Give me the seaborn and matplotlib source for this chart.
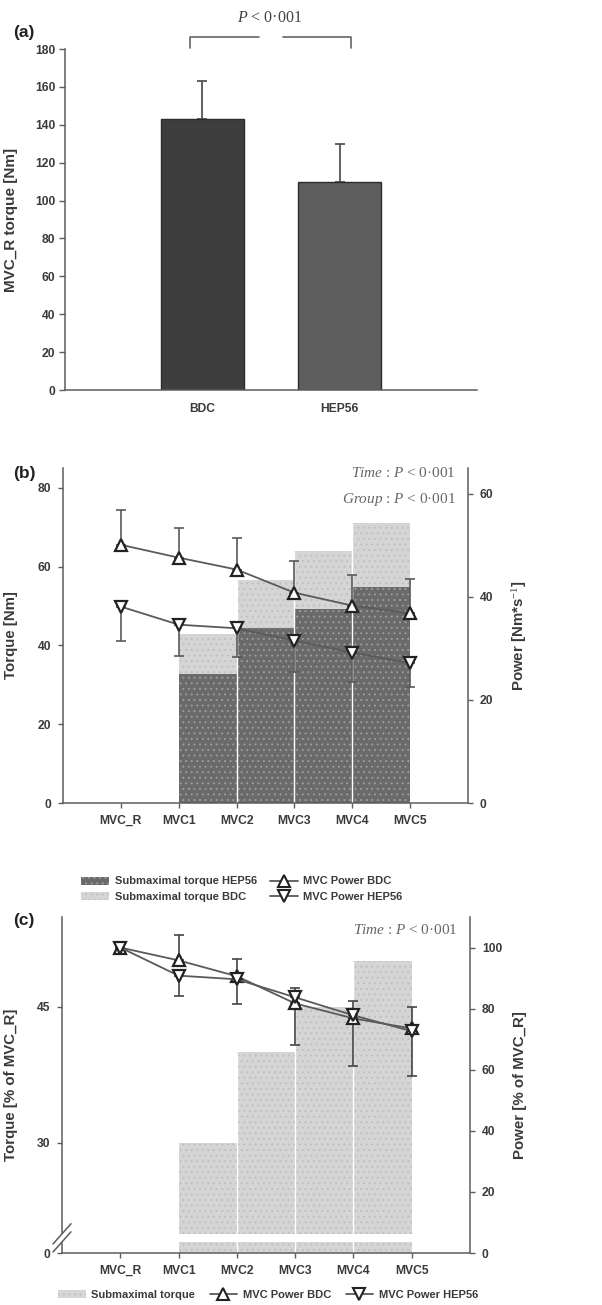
import numpy as np
import matplotlib
matplotlib.use('Agg')
import matplotlib.pyplot as plt
import seaborn as sns
from matplotlib.patches import Patch, Rectangle
from matplotlib.lines import Line2D

# ---------------- data ----------------
groups_a = ['BDC', 'HEP56']
mvc_r_torque = [143, 110]
mvc_r_torque_sd = [20, 20]

stages = ['MVC_R', 'MVC1', 'MVC2', 'MVC3', 'MVC4', 'MVC5']
# submaximal torque blocks between consecutive MVCs (MVC1-2, 2-3, 3-4, 4-5)
submax_torque_bdc = [42.8, 56.7, 64.0, 71.1]
submax_torque_hep = [32.7, 44.3, 49.1, 54.7]
power_bdc = [50.1, 47.6, 45.3, 40.8, 38.3, 36.8]
power_bdc_err = [6.8, 5.8, 6.2, 6.2, 6.0, 6.6]
power_hep = [38.1, 34.6, 33.9, 31.5, 29.2, 27.1]
power_hep_err = [6.7, 6.0, 5.6, 6.1, 5.8, 4.6]

submax_torque_pct = [30, 40, 45, 50]
power_bdc_pct = [100, 95.8, 90.6, 81.7, 76.8, 73.5]
power_bdc_pct_err = [0, 8.4, 5.8, 5.2, 5.6, 6.9]
power_hep_pct = [100, 90.8, 89.6, 83.7, 77.8, 72.6]
power_hep_pct_err = [0, 6.8, 8.2, 15.6, 16.7, 14.8]

c_left_ticks = [30, 45]
c_left_ticklabels = ['0', '30', '45']

# ---------------- style ----------------
sns.set_theme(style='ticks')
plt.rcParams['font.family'] = ['Liberation Sans', 'DejaVu Sans']
plt.rcParams['mathtext.fontset'] = 'custom'
plt.rcParams['mathtext.it'] = 'Liberation Serif:italic'
plt.rcParams['mathtext.rm'] = 'Liberation Serif'
plt.rcParams['hatch.linewidth'] = 0.7

W, H = 602, 1305
SPINE = '#5c5c5c'
TXT = '#3a3a3a'
STAT = '#666666'
DARK_BAR = '#6a6a6a'
DARK_DOT = '#9c9c9c'
LIGHT_BAR = '#d5d5d5'
LIGHT_DOT = '#bfbfbf'
LINE = '#5a5a5a'

fig = plt.figure(figsize=(W / 100, H / 100), dpi=100)


def style_axis(ax, sides=('left', 'bottom')):
    for s in ['left', 'right', 'top', 'bottom']:
        ax.spines[s].set_visible(s in sides)
        ax.spines[s].set_color(SPINE)
        ax.spines[s].set_linewidth(1.1)
    ax.tick_params(colors=SPINE, labelcolor=TXT, width=1.0, length=3.5)
    for lab in ax.get_xticklabels() + ax.get_yticklabels():
        lab.set_fontweight('bold')
        lab.set_fontsize(8.7)


# ---------------- panel (a) ----------------
axA = fig.add_axes([65 / W, 1 - 390 / H, 412 / W, 341 / H])
xa = np.arange(len(groups_a))
axA.errorbar(xa, mvc_r_torque, yerr=[np.zeros(len(xa)), mvc_r_torque_sd], fmt='none',
             ecolor='#555555', elinewidth=1.3, capsize=3.5, capthick=1.3, zorder=0.5)
sns.barplot(x=groups_a, y=mvc_r_torque, hue=groups_a, palette=['#3e3e3e', '#5e5e5e'],
            width=0.6, legend=False, errorbar=None, edgecolor='#2c2c2c', linewidth=1.0, ax=axA)
for p in axA.patches:
    p.set_zorder(2)
axA.set_xlim(-1, 2)
axA.set_ylim(0, 180)
axA.set_yticks(np.arange(0, 181, 20))
axA.set_xticks(xa)
axA.set_xticklabels(groups_a)
style_axis(axA)
axA.tick_params(axis='x', length=0, pad=9)
axA.tick_params(axis='y', length=4, pad=3)
axA.set_xlabel('')
axA.set_ylabel('MVC_R torque [Nm]', fontsize=11, fontweight='bold', color=TXT)
axA.yaxis.set_label_coords(-0.114, 0.5)
yb, yt = 186.3, 180.6
axA.plot([xa[0] - 0.09, xa[0] - 0.09, xa[0] + 0.41], [yt, yb, yb], color='#666666', lw=1.2, clip_on=False)
axA.plot([xa[1] - 0.41, xa[1] + 0.08, xa[1] + 0.08], [yb, yb, yt], color='#666666', lw=1.2, clip_on=False)
axA.text(0.49, 196.4, '$P$ < 0·001', ha='center', va='center', fontsize=11.5,
         family='Liberation Serif', color='#444444')
fig.text(13 / W, 1 - 33 / H, '(a)', ha='left', va='center', fontsize=12.5, fontweight='bold', color='#222222')

xpos = np.arange(len(stages))
block_left = xpos[1:-1]

# ---------------- panel (b) ----------------
axB = fig.add_axes([63 / W, 1 - 803 / H, 405 / W, 335 / H])
axB.bar(block_left, submax_torque_bdc, width=1, align='edge', color=LIGHT_BAR,
        edgecolor=LIGHT_DOT, hatch='...', linewidth=0, zorder=1)
axB.bar(block_left, submax_torque_hep, width=1, align='edge', color=DARK_BAR,
        edgecolor=DARK_DOT, hatch='...', linewidth=0, zorder=2)
sep_h = np.maximum(submax_torque_bdc[:-1], submax_torque_bdc[1:])
axB.vlines(block_left[1:], 0, sep_h, colors='white', lw=1.0, zorder=2.5)
axB.set_xlim(-1, len(stages))
axB.set_ylim(0, 85)
axB.set_yticks([0, 20, 40, 60, 80])
axB.set_xticks(xpos)
axB.set_xticklabels(stages)
style_axis(axB)
axB.tick_params(axis='x', pad=5)
axB.tick_params(axis='y', pad=5)
axB.set_ylabel('Torque [Nm]', fontsize=10.8, fontweight='bold', color=TXT)
axB.yaxis.set_label_coords(-0.111, 0.5)

axB2 = axB.twinx()
axB2.errorbar(xpos, power_bdc, yerr=[np.zeros(len(xpos)), power_bdc_err], fmt='none',
              ecolor=LINE, elinewidth=1.2, capsize=3.5, capthick=1.2, zorder=3)
axB2.errorbar(xpos, power_hep, yerr=[power_hep_err, np.zeros(len(xpos))], fmt='none',
              ecolor=LINE, elinewidth=1.2, capsize=3.5, capthick=1.2, zorder=3)
sns.lineplot(x=xpos, y=power_bdc, ax=axB2, color=LINE, lw=1.3, marker='^', markersize=9,
             markerfacecolor='white', markeredgecolor='#222222', markeredgewidth=1.6, zorder=4)
sns.lineplot(x=xpos, y=power_hep, ax=axB2, color=LINE, lw=1.3, marker='v', markersize=9,
             markerfacecolor='white', markeredgecolor='#222222', markeredgewidth=1.6, zorder=4)
axB2.set_ylim(0, 65)
axB2.set_yticks([0, 20, 40, 60])
style_axis(axB2, sides=('right',))
axB2.tick_params(axis='y', pad=5)
axB2.set_ylabel('Power [Nm*s$^{-1}$]', fontsize=10.8, fontweight='bold', color=TXT)
axB2.yaxis.set_label_coords(1.104, 0.5)
axB2.set_xlim(-1, len(stages))
axB.text(0.97, 0.985, '$Time$ : $P$ < 0·001', transform=axB.transAxes, ha='right', va='center',
         fontsize=11, family='Liberation Serif', color=STAT)
axB.text(0.97, 0.905, '$Group$ : $P$ < 0·001', transform=axB.transAxes, ha='right', va='center',
         fontsize=11, family='Liberation Serif', color=STAT)
fig.text(13 / W, 1 - 473 / H, '(b)', ha='left', va='center', fontsize=12.5, fontweight='bold', color='#222222')

h_hep = Patch(facecolor=DARK_BAR, edgecolor=DARK_DOT, hatch='...', linewidth=0)
h_bdc = Patch(facecolor=LIGHT_BAR, edgecolor=LIGHT_DOT, hatch='...', linewidth=0)
l_bdc = Line2D([0], [0], color=LINE, lw=1.3, marker='^', markersize=8, markerfacecolor='white',
               markeredgecolor='#222222', markeredgewidth=1.5)
l_hep = Line2D([0], [0], color=LINE, lw=1.3, marker='v', markersize=8, markerfacecolor='white',
               markeredgecolor='#222222', markeredgewidth=1.5)
fig.legend([h_hep, h_bdc, l_bdc, l_hep],
           ['Submaximal torque HEP56', 'Submaximal torque BDC', 'MVC Power BDC', 'MVC Power HEP56'],
           ncol=2, loc='center', bbox_to_anchor=(242 / W, 1 - 889 / H), frameon=False,
           prop={'weight': 'bold', 'size': 8.0}, labelcolor=TXT, handlelength=2.5,
           handletextpad=0.5, columnspacing=1.2, labelspacing=0.45)

# ---------------- panel (c) ----------------
axC = fig.add_axes([62 / W, 1 - 1253 / H, 408 / W, 336 / H])
c_ylow, c_ytop = 17.87, 54.9
brk_lo, brk_hi = 19.1, 19.96
axC.bar(block_left, np.array(submax_torque_pct) - brk_hi, bottom=brk_hi, width=1, align='edge',
        color=LIGHT_BAR, edgecolor=LIGHT_DOT, hatch='...', linewidth=0, zorder=1)
axC.bar(block_left, brk_lo - c_ylow, bottom=c_ylow, width=1, align='edge',
        color=LIGHT_BAR, edgecolor=LIGHT_DOT, hatch='...', linewidth=0, zorder=1)
axC.vlines(block_left[1:], c_ylow, np.maximum(submax_torque_pct[:-1], submax_torque_pct[1:]),
           colors='white', lw=1.0, zorder=2)
axC.set_xlim(-1, len(stages))
axC.set_ylim(c_ylow, c_ytop)
axC.set_yticks([c_ylow] + c_left_ticks)
axC.set_yticklabels(c_left_ticklabels)
axC.set_xticks(xpos)
axC.set_xticklabels(stages)
style_axis(axC)
axC.tick_params(axis='x', pad=5)
axC.tick_params(axis='y', pad=5)
axC.set_ylabel('Torque [% of MVC_R]', fontsize=10.8, fontweight='bold', color=TXT)
axC.yaxis.set_label_coords(-0.108, 0.5)
# axis break marks
yb0 = 0.045
axC.add_patch(Rectangle((-0.01, yb0 - 0.012), 0.02, 0.024, transform=axC.transAxes,
                        facecolor='white', edgecolor='none', clip_on=False, zorder=5))
for dy in (-0.012, 0.012):
    axC.plot([-0.022, 0.022], [yb0 + dy - 0.03, yb0 + dy + 0.03], transform=axC.transAxes,
             color=SPINE, lw=1.1, clip_on=False, zorder=6)

axC2 = axC.twinx()
axC2.errorbar(xpos, power_bdc_pct, yerr=[np.zeros(len(xpos)), power_bdc_pct_err], fmt='none',
              ecolor='#444444', elinewidth=1.2, capsize=3.5, capthick=1.2, zorder=3)
axC2.errorbar(xpos, power_hep_pct, yerr=[power_hep_pct_err, np.zeros(len(xpos))], fmt='none',
              ecolor='#444444', elinewidth=1.2, capsize=3.5, capthick=1.2, zorder=3)
sns.lineplot(x=xpos, y=power_bdc_pct, ax=axC2, color=LINE, lw=1.3, marker='^', markersize=9,
             markerfacecolor='white', markeredgecolor='#222222', markeredgewidth=1.6, zorder=4)
sns.lineplot(x=xpos, y=power_hep_pct, ax=axC2, color=LINE, lw=1.3, marker='v', markersize=9,
             markerfacecolor='white', markeredgecolor='#222222', markeredgewidth=1.6, zorder=4)
axC2.set_ylim(0, 110)
axC2.set_yticks([0, 20, 40, 60, 80, 100])
style_axis(axC2, sides=('right',))
axC2.tick_params(axis='y', pad=5)
axC2.set_ylabel('Power [% of MVC_R]', fontsize=10.8, fontweight='bold', color=TXT)
axC2.yaxis.set_label_coords(1.105, 0.5)
axC2.set_xlim(-1, len(stages))
axC.text(0.97, 0.96, '$Time$ : $P$ < 0·001', transform=axC.transAxes, ha='right', va='center',
         fontsize=11, family='Liberation Serif', color=STAT)
fig.text(13 / W, 1 - 920 / H, '(c)', ha='left', va='center', fontsize=12.5, fontweight='bold', color='#222222')

h_sub = Patch(facecolor=LIGHT_BAR, edgecolor=LIGHT_DOT, hatch='...', linewidth=0)
fig.legend([h_sub, l_bdc, l_hep], ['Submaximal torque', 'MVC Power BDC', 'MVC Power HEP56'],
           ncol=3, loc='center', bbox_to_anchor=(268 / W, 1 - 1295 / H), frameon=False,
           prop={'weight': 'bold', 'size': 8.0}, labelcolor=TXT, handlelength=2.5,
           handletextpad=0.5, columnspacing=1.3, borderpad=0.1)

fig.savefig('out.png', dpi=100)
